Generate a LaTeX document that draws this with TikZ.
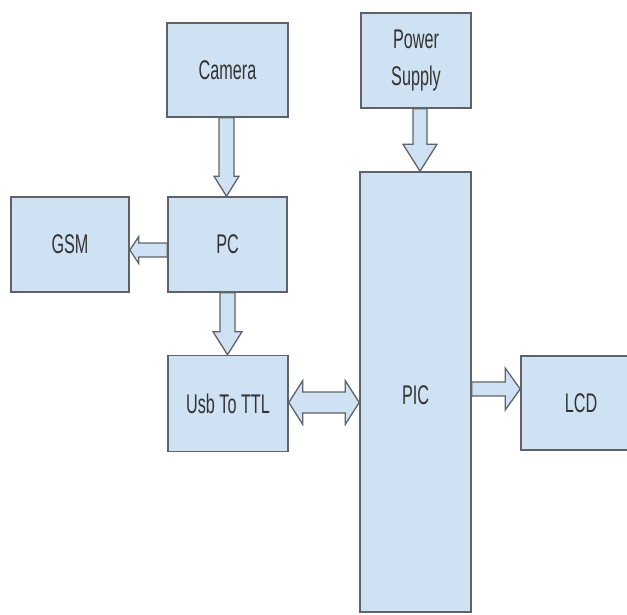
\documentclass[tikz,border=0pt]{standalone}
\usepackage{fontspec}
\setmainfont{Liberation Sans}[FakeStretch=0.6]
\usetikzlibrary{calc}
\definecolor{boxfill}{HTML}{CFE2F3}
\definecolor{boxline}{HTML}{5F6368}
\definecolor{txt}{HTML}{333333}
\tikzset{
  blockbox/.style={draw=boxline, fill=boxfill, line width=1.6pt, inner sep=0pt,
    text=txt, align=center, font=\fontsize{27}{37}\selectfont},
  blk/.style={draw=boxline, fill=boxfill, line width=1.3pt, line join=miter}
}
\newcommand{\arrDown}[5]{\draw[blk] let \p1=(#1), \p2=(#2) in
  (\x1-#3pt,\y1) -- (\x1-#3pt,\y2+#5pt) -- (\x1-#4pt,\y2+#5pt) -- (\x1,\y2)
  -- (\x1+#4pt,\y2+#5pt) -- (\x1+#3pt,\y2+#5pt) -- (\x1+#3pt,\y1) -- cycle;}
\newcommand{\arrLeft}[5]{\draw[blk] let \p1=(#1), \p2=(#2) in
  (\x1,\y1+#3pt) -- (\x2+#5pt,\y1+#3pt) -- (\x2+#5pt,\y1+#4pt) -- (\x2,\y1)
  -- (\x2+#5pt,\y1-#4pt) -- (\x2+#5pt,\y1-#3pt) -- (\x1,\y1-#3pt) -- cycle;}
\newcommand{\arrRight}[5]{\draw[blk] let \p1=(#1), \p2=(#2) in
  (\x1,\y1+#3pt) -- (\x2-#5pt,\y1+#3pt) -- (\x2-#5pt,\y1+#4pt) -- (\x2,\y1)
  -- (\x2-#5pt,\y1-#4pt) -- (\x2-#5pt,\y1-#3pt) -- (\x1,\y1-#3pt) -- cycle;}
\newcommand{\arrBoth}[5]{\draw[blk] let \p1=(#1), \p2=(#2) in
  (\x1,\y1) -- (\x1+#5pt,\y1+#4pt) -- (\x1+#5pt,\y1+#3pt) -- (\x2-#5pt,\y1+#3pt)
  -- (\x2-#5pt,\y1+#4pt) -- (\x2,\y1) -- (\x2-#5pt,\y1-#4pt) -- (\x2-#5pt,\y1-#3pt)
  -- (\x1+#5pt,\y1-#3pt) -- (\x1+#5pt,\y1-#4pt) -- cycle;}
\begin{document}
\begin{tikzpicture}[x=1pt,y=-1pt]
\useasboundingbox (0,0) rectangle (627,614);
\node[blockbox, minimum width=121pt, minimum height=94pt] (cam) at (227.5,70) {Camera};
\node[blockbox, minimum width=110pt, minimum height=95pt] (ps) at (416,60.5) {Power\\Supply};
\node[blockbox, minimum width=118pt, minimum height=95pt] (gsm) at (70,244.5) {GSM};
\node[blockbox, minimum width=119pt, minimum height=95pt] (pc) at (227.5,244.5) {PC};
\node[blockbox, minimum width=120pt, minimum height=96pt] (usb) at (228,403.5) {Usb To TTL};
\node[blockbox, minimum width=111pt, minimum height=440pt] (pic) at (415.5,392) {};
\node[txt, font=\fontsize{27}{37}\selectfont] (pict) at (415.5,395) {PIC};
\node[blockbox, minimum width=120pt, minimum height=94pt] (lcd) at (581,403) {LCD};
\arrDown{$(cam.south)+(-1,0)$}{pc.north}{7.5}{12.5}{20}
\arrDown{$(ps.south)+(4,0)$}{pic.north}{7}{17}{27}
\arrLeft{$(pc.west)+(0,5.5)$}{gsm.east}{7}{13.5}{9}
\arrDown{$(pc.south)+(0,0)$}{usb.north}{7.5}{14.5}{23}
\arrBoth{$(usb.east)+(0,-1)$}{pic.west}{10.5}{22}{14}
\arrRight{$(pic.east)+(0,-3)$}{lcd.west}{7}{21}{15}
\end{tikzpicture}
\end{document}
